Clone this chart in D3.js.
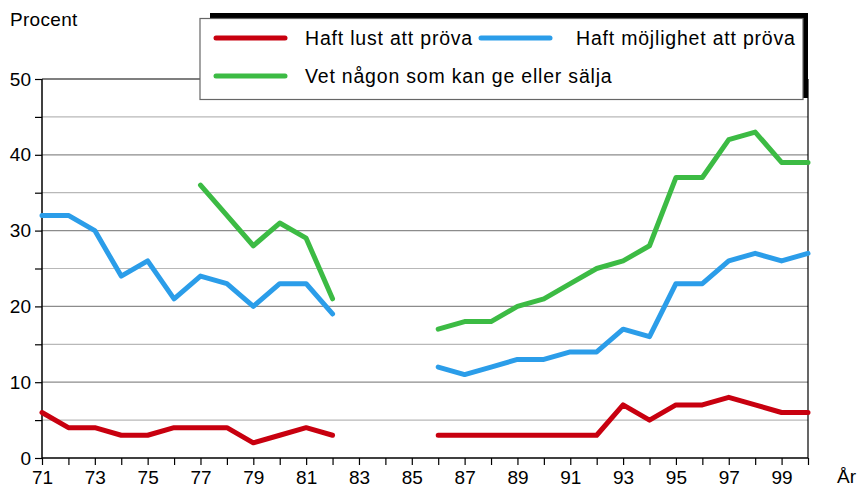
<!DOCTYPE html>
<html>
<head>
<meta charset="utf-8">
<script src="https://d3js.org/d3.v7.min.js"></script>
<style>
body { margin: 0; background: #fff; font-family: 'Liberation Sans', Arial, sans-serif; }
svg text { font-family: 'Liberation Sans', Arial, sans-serif; fill: #000; }
</style>
</head>
<body>
<div id="chart"></div>
<script>
// years 71..100, null = no survey that year
var years = d3.range(71, 101);
var lust = [6,4,4,3,3,4,4,4,2,3,4,3,null,null,null,3,3,3,3,3,3,3,7,5,7,7,8,7,6,6];
var mojlighet = [32,32,30,24,26,21,24,23,20,23,23,19,null,null,null,12,11,12,13,13,14,14,17,16,23,23,26,27,26,27];
var vetNagon = [null,null,null,null,null,null,36,32,28,31,29,21,null,null,null,17,18,18,20,21,23,25,26,28,37,37,42,43,39,39];
var seriesNames = ["Haft lust att pröva", "Haft möjlighet att pröva", "Vet någon som kan ge eller sälja"];
var seriesColors = ["#c8000f", "#2b9de9", "#3cbb44"];
var yTicks = [0, 10, 20, 30, 40, 50];
var xLabels = ["71","73","75","77","79","81","83","85","87","89","91","93","95","97","99"];

var svg = d3.select("#chart").append("svg").attr("width", 862).attr("height", 488);

var x = d3.scaleLinear().domain([71, 100]).range([42, 808]);
var y = d3.scaleLinear().domain([0, 50]).range([458, 79]);

// grid lines
d3.range(5, 50, 5).forEach(function(v) {
  svg.append("line")
    .attr("x1", 42).attr("x2", 808)
    .attr("y1", y(v)).attr("y2", y(v))
    .style("stroke", v % 10 == 0 ? "#8c8c8c" : "#b8b8b8")
    .style("stroke-width", 1.2);
});
// top line at 50
svg.append("line").attr("x1", 42).attr("x2", 808).attr("y1", y(50)).attr("y2", y(50))
  .style("stroke", "#000").style("stroke-width", 1.2);
// right border
svg.append("line").attr("x1", 808).attr("x2", 808).attr("y1", y(50)).attr("y2", y(0))
  .style("stroke", "#000").style("stroke-width", 1.2);

// y axis
var yAxis = d3.axisLeft(y).tickValues(d3.range(0, 55, 5)).tickSize(7).tickPadding(4)
  .tickFormat(function(d) { return yTicks.indexOf(d) >= 0 ? d : ""; });
var gy = svg.append("g").attr("transform", "translate(42,0)").call(yAxis);
gy.select(".domain").remove();
gy.selectAll(".tick line").style("stroke", "#000").style("stroke-width", 1.2);
gy.selectAll("text").style("font-size", "19px");
svg.append("line").attr("x1", 42).attr("x2", 42).attr("y1", y(50)).attr("y2", y(0))
  .style("stroke", "#000").style("stroke-width", 1.5);

// x axis
var xAxis = d3.axisBottom(x).tickValues(years).tickSize(7).tickPadding(6)
  .tickFormat(function(d) { return xLabels.indexOf(String(d)) >= 0 ? d : ""; });
var gx = svg.append("g").attr("transform", "translate(0,458)").call(xAxis);
gx.select(".domain").remove();
gx.selectAll(".tick line").style("stroke", "#000").style("stroke-width", 1.2);
gx.selectAll("text").style("font-size", "19px");
svg.append("line").attr("x1", 42).attr("x2", 808).attr("y1", y(0)).attr("y2", y(0))
  .style("stroke", "#000").style("stroke-width", 1.5);

svg.append("text").attr("x", 10).attr("y", 26).style("font-size", "19px")
  .style("letter-spacing", "0.3px").text("Procent");
svg.append("text").attr("x", 837).attr("y", 483).style("font-size", "19px").text("År");

// lines
var line = d3.line()
  .defined(function(d) { return d != null; })
  .x(function(d, i) { return x(years[i]); })
  .y(function(d) { return y(d); });

[lust, mojlighet, vetNagon].forEach(function(s, k) {
  svg.append("path").datum(s)
    .attr("d", line)
    .style("fill", "none")
    .style("stroke", seriesColors[k])
    .style("stroke-width", 5)
    .style("stroke-linejoin", "round")
    .style("stroke-linecap", "round");
});

// legend with shadow
svg.append("rect").attr("x", 210).attr("y", 13).attr("width", 598).attr("height", 85).style("fill", "#000");
svg.append("rect").attr("x", 200).attr("y", 18.5).attr("width", 603).attr("height", 81)
  .style("fill", "#fff").style("stroke", "#666").style("stroke-width", 1.2);

var legendPos = [[216, 38], [481, 38], [216, 76]];
legendPos.forEach(function(p, k) {
  svg.append("line").attr("x1", p[0]).attr("x2", p[0] + 69).attr("y1", p[1]).attr("y2", p[1])
    .style("stroke", seriesColors[k]).style("stroke-width", 5).style("stroke-linecap", "round");
  svg.append("text").attr("x", p[0] + (k == 1 ? 95 : 89)).attr("y", p[1] + 7)
    .style("font-size", "19.5px").style("letter-spacing", "0.8px").text(seriesNames[k]);
});
</script>
</body>
</html>
